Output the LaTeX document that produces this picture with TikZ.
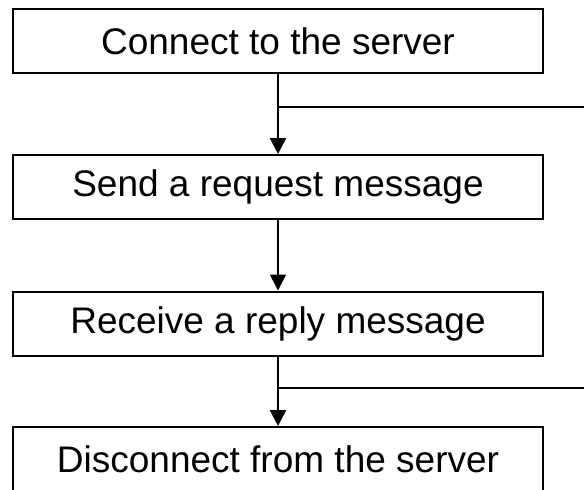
\documentclass[tikz,border=0pt]{standalone}
\usepackage{fontspec}
\setmainfont{Liberation Sans}
\usetikzlibrary{arrows.meta}

\tikzset{
  stepbox/.style={draw, line width=2pt, minimum width=530pt, minimum height=64pt, inner sep=0pt, font=\fontsize{37}{44}\selectfont},
  link/.style={line width=1.6pt},
  feed/.style={line width=2.4pt, -{Triangle[length=16pt,width=16pt]}}
}

\begin{document}
\begin{tikzpicture}[x=1pt, y=-1pt]
      \useasboundingbox (0,0) rectangle (584,490);
      \node[stepbox] (connect) at (278,41) {Connect to the server};
      \node[stepbox] (send) at (278,187) {Send a request message};
      \node[stepbox] (receive) at (278,323.5) {Receive a reply message};
      \node[stepbox] (disconnect) at (278,459) {Disconnect from the server};
      \coordinate (j1) at (278,107);
      \coordinate (e1) at (590,107);
      \coordinate (j2) at (278,388);
      \coordinate (e2) at (590,388);
      \draw[link] (connect.south) -- (j1);
      \draw[feed] (j1) -- (send.north);
      \draw[link] (j1) -- (e1);
      \draw[link, -{Triangle[length=16pt,width=16pt]}] (send.south) -- (receive.north);
      \draw[link] (receive.south) -- (j2);
      \draw[feed] (j2) -- (disconnect.north);
      \draw[link] (j2) -- (e2);
\end{tikzpicture}
\end{document}
